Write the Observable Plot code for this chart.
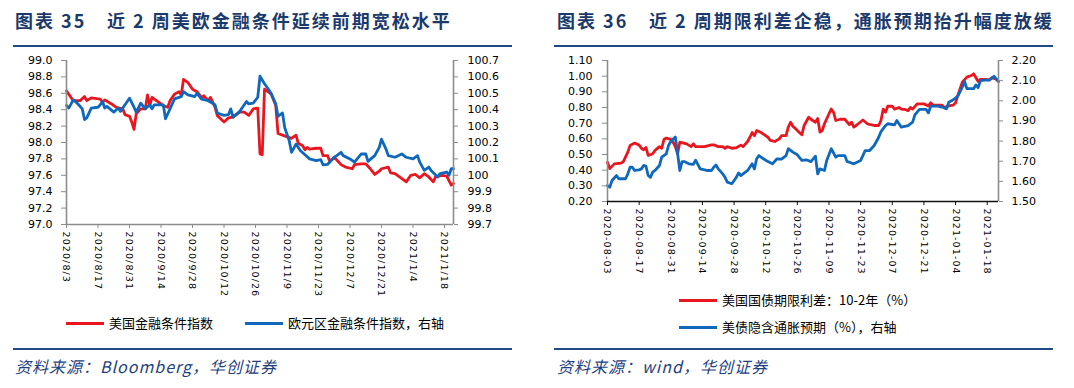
<!DOCTYPE html>
<html><head><meta charset="utf-8">
<script src="https://cdn.jsdelivr.net/npm/d3@7"></script>
<script src="https://cdn.jsdelivr.net/npm/@observablehq/plot@0.6"></script>
<style>
body{margin:0;background:#fff;}
#root{position:relative;width:1074px;height:388px;overflow:hidden;font-family:"Noto Sans CJK SC",sans-serif;background:#fff;}
.title{position:absolute;top:6px;font-size:18px;font-weight:700;color:#1b3a6b;letter-spacing:2px;white-space:nowrap;line-height:28px}
.rule{position:absolute;height:2px;background:#1f4a86}
.src{position:absolute;top:355px;font-size:16px;font-style:italic;color:#1f3f7f;letter-spacing:1px;white-space:nowrap;line-height:22px}
.leg{position:absolute;font-size:13px;color:#000;white-space:nowrap;line-height:18px}
.sw{position:absolute;height:3px;width:38px}
.chart{position:absolute;top:50px}
</style></head>
<body><div id="root"></div>
<script>
// ---------- Data: left panel (图表35) ----------
const usDates = ["2020-08-03","2020-08-06","2020-08-09","2020-08-11","2020-08-12","2020-08-14","2020-08-18","2020-08-19","2020-08-20","2020-08-23","2020-08-25","2020-08-28","2020-08-29","2020-08-31","2020-09-01","2020-09-02","2020-09-03","2020-09-05","2020-09-07","2020-09-08","2020-09-09","2020-09-10","2020-09-12","2020-09-15","2020-09-17","2020-09-18","2020-09-20","2020-09-22","2020-09-23","2020-09-24","2020-09-26","2020-09-28","2020-09-30","2020-10-02","2020-10-03","2020-10-05","2020-10-06","2020-10-08","2020-10-09","2020-10-12","2020-10-14","2020-10-16","2020-10-19","2020-10-21","2020-10-23","2020-10-25","2020-10-27","2020-10-28","2020-10-29","2020-10-30","2020-11-02","2020-11-04","2020-11-05","2020-11-07","2020-11-10","2020-11-11","2020-11-13","2020-11-14","2020-11-16","2020-11-17","2020-11-18","2020-11-19","2020-11-22","2020-11-24","2020-11-25","2020-11-27","2020-11-28","2020-11-30","2020-12-03","2020-12-05","2020-12-08","2020-12-09","2020-12-12","2020-12-14","2020-12-16","2020-12-18","2020-12-20","2020-12-21","2020-12-24","2020-12-25","2020-12-27","2020-12-29","2021-01-01","2021-01-03","2021-01-05","2021-01-07","2021-01-09","2021-01-11","2021-01-13","2021-01-14","2021-01-17","2021-01-19","2021-01-21","2021-01-22"];
const usFci = [98.63,98.51,98.51,98.56,98.51,98.545,98.53,98.49,98.52,98.47,98.43,98.41,98.34,98.32,98.25,98.16,98.35,98.41,98.41,98.58,98.45,98.55,98.51,98.45,98.43,98.51,98.59,98.62,98.58,98.77,98.73,98.65,98.62,98.55,98.57,98.51,98.55,98.43,98.33,98.25,98.30,98.31,98.37,98.37,98.33,98.41,98.42,97.86,97.85,98.65,98.59,98.45,98.11,98.09,98.06,98.05,98.09,97.99,97.96,97.91,97.94,97.92,97.93,97.93,97.84,97.84,97.77,97.82,97.73,97.70,97.68,97.73,97.74,97.74,97.68,97.61,97.65,97.68,97.70,97.63,97.62,97.58,97.52,97.60,97.61,97.57,97.62,97.58,97.52,97.58,97.60,97.59,97.48,97.50];

const euDates = ["2020-08-03","2020-08-04","2020-08-06","2020-08-08","2020-08-10","2020-08-11","2020-08-12","2020-08-14","2020-08-17","2020-08-18","2020-08-19","2020-08-20","2020-08-21","2020-08-24","2020-08-26","2020-08-27","2020-08-29","2020-08-31","2020-09-02","2020-09-03","2020-09-05","2020-09-07","2020-09-09","2020-09-10","2020-09-11","2020-09-15","2020-09-16","2020-09-18","2020-09-20","2020-09-23","2020-09-24","2020-09-26","2020-09-29","2020-09-30","2020-10-02","2020-10-05","2020-10-08","2020-10-09","2020-10-12","2020-10-14","2020-10-15","2020-10-16","2020-10-19","2020-10-20","2020-10-22","2020-10-23","2020-10-25","2020-10-27","2020-10-28","2020-10-30","2020-11-01","2020-11-02","2020-11-04","2020-11-05","2020-11-07","2020-11-08","2020-11-10","2020-11-11","2020-11-13","2020-11-15","2020-11-17","2020-11-19","2020-11-22","2020-11-24","2020-11-25","2020-11-27","2020-11-30","2020-12-03","2020-12-04","2020-12-07","2020-12-09","2020-12-12","2020-12-14","2020-12-15","2020-12-18","2020-12-20","2020-12-21","2020-12-23","2020-12-24","2020-12-27","2020-12-30","2021-01-01","2021-01-04","2021-01-06","2021-01-07","2021-01-09","2021-01-11","2021-01-12","2021-01-15","2021-01-16","2021-01-19","2021-01-20","2021-01-21","2021-01-22"];
const euFci = [100.426,100.41,100.46,100.436,100.405,100.34,100.35,100.41,100.415,100.43,100.45,100.41,100.42,100.385,100.41,100.39,100.43,100.47,100.415,100.385,100.44,100.405,100.43,100.405,100.43,100.43,100.345,100.405,100.466,100.48,100.51,100.49,100.48,100.50,100.465,100.455,100.43,100.38,100.365,100.37,100.405,100.355,100.39,100.41,100.45,100.435,100.44,100.476,100.604,100.558,100.52,100.497,100.436,100.36,100.38,100.29,100.21,100.14,100.19,100.15,100.125,100.10,100.09,100.095,100.064,100.066,100.11,100.14,100.12,100.10,100.08,100.13,100.13,100.085,100.12,100.17,100.22,100.16,100.12,100.11,100.13,100.11,100.10,100.12,100.08,100.03,100.05,100.03,99.99,100.01,100.02,100.00,100.04,100.04];

const leftTicksL = [97.0,97.2,97.4,97.6,97.8,98.0,98.2,98.4,98.6,98.8,99.0];
const leftTicksR = [99.7,99.8,99.9,100.0,100.1,100.2,100.3,100.4,100.5,100.6,100.7];
const leftXTicks = ["2020-08-03","2020-08-17","2020-08-31","2020-09-14","2020-09-28","2020-10-12","2020-10-26","2020-11-09","2020-11-23","2020-12-07","2020-12-21","2021-01-04","2021-01-18"];
const leftXLabels = ["2020/8/3","2020/8/17","2020/8/31","2020/9/14","2020/9/28","2020/10/12","2020/10/26","2020/11/9","2020/11/23","2020/12/7","2020/12/21","2021/1/4","2021/1/18"];

// ---------- Data: right panel (图表36) ----------
const spreadDates = ["2020-08-03","2020-08-04","2020-08-06","2020-08-09","2020-08-10","2020-08-12","2020-08-13","2020-08-15","2020-08-17","2020-08-18","2020-08-19","2020-08-20","2020-08-21","2020-08-23","2020-08-24","2020-08-26","2020-08-27","2020-08-28","2020-08-29","2020-08-31","2020-09-01","2020-09-02","2020-09-03","2020-09-04","2020-09-07","2020-09-09","2020-09-10","2020-09-11","2020-09-15","2020-09-18","2020-09-19","2020-09-21","2020-09-23","2020-09-24","2020-09-25","2020-09-27","2020-09-29","2020-10-01","2020-10-02","2020-10-04","2020-10-05","2020-10-06","2020-10-07","2020-10-08","2020-10-10","2020-10-13","2020-10-14","2020-10-16","2020-10-18","2020-10-19","2020-10-21","2020-10-22","2020-10-23","2020-10-24","2020-10-25","2020-10-27","2020-10-28","2020-10-29","2020-10-31","2020-11-01","2020-11-03","2020-11-04","2020-11-05","2020-11-06","2020-11-07","2020-11-09","2020-11-10","2020-11-11","2020-11-12","2020-11-14","2020-11-16","2020-11-18","2020-11-19","2020-11-20","2020-11-21","2020-11-24","2020-11-26","2020-11-29","2020-12-01","2020-12-02","2020-12-03","2020-12-04","2020-12-05","2020-12-07","2020-12-08","2020-12-10","2020-12-11","2020-12-13","2020-12-14","2020-12-15","2020-12-16","2020-12-18","2020-12-21","2020-12-23","2020-12-24","2020-12-25","2020-12-27","2020-12-29","2020-12-30","2021-01-01","2021-01-03","2021-01-04","2021-01-05","2021-01-07","2021-01-09","2021-01-11","2021-01-12","2021-01-14","2021-01-15","2021-01-17","2021-01-19","2021-01-20","2021-01-22","2021-01-23"];
const spread = [0.45,0.41,0.44,0.445,0.455,0.515,0.558,0.573,0.56,0.54,0.53,0.545,0.494,0.505,0.526,0.55,0.54,0.596,0.605,0.596,0.579,0.55,0.505,0.579,0.568,0.55,0.568,0.55,0.55,0.562,0.562,0.55,0.55,0.54,0.55,0.54,0.543,0.56,0.55,0.583,0.61,0.64,0.62,0.653,0.64,0.61,0.59,0.583,0.60,0.62,0.62,0.675,0.706,0.68,0.668,0.639,0.626,0.685,0.738,0.725,0.706,0.73,0.643,0.653,0.696,0.76,0.79,0.77,0.717,0.725,0.725,0.69,0.706,0.675,0.685,0.72,0.696,0.685,0.685,0.717,0.79,0.77,0.808,0.808,0.79,0.80,0.79,0.786,0.78,0.80,0.79,0.823,0.823,0.81,0.83,0.815,0.815,0.815,0.80,0.81,0.815,0.83,0.877,0.962,0.994,1.004,1.015,0.966,0.98,0.98,0.976,0.99,0.98,0.966];

const bkeDates = ["2020-08-03","2020-08-04","2020-08-05","2020-08-07","2020-08-08","2020-08-11","2020-08-12","2020-08-13","2020-08-14","2020-08-15","2020-08-17","2020-08-18","2020-08-19","2020-08-20","2020-08-21","2020-08-22","2020-08-23","2020-08-24","2020-08-26","2020-08-27","2020-08-29","2020-08-30","2020-08-31","2020-09-02","2020-09-03","2020-09-04","2020-09-05","2020-09-06","2020-09-08","2020-09-10","2020-09-11","2020-09-13","2020-09-16","2020-09-18","2020-09-19","2020-09-20","2020-09-21","2020-09-23","2020-09-24","2020-09-25","2020-09-27","2020-09-29","2020-09-30","2020-10-01","2020-10-04","2020-10-06","2020-10-07","2020-10-08","2020-10-09","2020-10-11","2020-10-13","2020-10-15","2020-10-17","2020-10-19","2020-10-21","2020-10-22","2020-10-24","2020-10-26","2020-10-28","2020-10-30","2020-11-01","2020-11-03","2020-11-04","2020-11-05","2020-11-07","2020-11-08","2020-11-10","2020-11-12","2020-11-13","2020-11-16","2020-11-17","2020-11-18","2020-11-20","2020-11-23","2020-11-24","2020-11-25","2020-11-27","2020-11-29","2020-12-01","2020-12-02","2020-12-04","2020-12-05","2020-12-08","2020-12-09","2020-12-11","2020-12-13","2020-12-14","2020-12-16","2020-12-17","2020-12-19","2020-12-22","2020-12-23","2020-12-24","2020-12-27","2020-12-29","2020-12-31","2021-01-01","2021-01-03","2021-01-05","2021-01-07","2021-01-08","2021-01-09","2021-01-10","2021-01-12","2021-01-13","2021-01-14","2021-01-15","2021-01-17","2021-01-19","2021-01-21","2021-01-22","2021-01-23"];
const bke = [1.579,1.571,1.604,1.629,1.613,1.613,1.637,1.67,1.67,1.654,1.657,1.662,1.679,1.676,1.629,1.62,1.646,1.654,1.679,1.72,1.737,1.778,1.798,1.82,1.74,1.654,1.698,1.698,1.687,1.684,1.705,1.662,1.654,1.654,1.67,1.681,1.662,1.637,1.62,1.596,1.588,1.62,1.642,1.629,1.654,1.687,1.662,1.712,1.728,1.712,1.698,1.687,1.712,1.71,1.728,1.762,1.745,1.732,1.704,1.707,1.698,1.725,1.637,1.662,1.654,1.704,1.762,1.72,1.728,1.728,1.698,1.695,1.687,1.704,1.728,1.753,1.753,1.778,1.819,1.847,1.877,1.886,1.88,1.902,1.869,1.874,1.877,1.894,1.93,1.957,1.957,1.94,1.973,1.973,1.969,1.96,1.993,2.005,2.023,2.068,2.096,2.06,2.06,2.06,2.079,2.065,2.10,2.103,2.103,2.122,2.109,2.096];

const rightTicksL = [0.2,0.3,0.4,0.5,0.6,0.7,0.8,0.9,1.0,1.1];
const rightTicksR = [1.5,1.6,1.7,1.8,1.9,2.0,2.1,2.2];
const rightXTicks = leftXTicks;
const rightXLabels = ["2020-08-03","2020-08-17","2020-08-31","2020-09-14","2020-09-28","2020-10-12","2020-10-26","2020-11-09","2020-11-23","2020-12-07","2020-12-21","2021-01-04","2021-01-18"];

// ---------- Text ----------
const texts = {
  t1a: "图表 35", t1b: "近 2 周美欧金融条件延续前期宽松水平",
  t2a: "图表 36", t2b: "近 2 周期限利差企稳，通胀预期抬升幅度放缓",
  s1: "资料来源：Bloomberg，华创证券", s2: "资料来源：wind，华创证券",
  l1a: "美国金融条件指数", l1b: "欧元区金融条件指数，右轴",
  l2a: "美国国债期限利差：10-2年（%）", l2b: "美债隐含通胀预期（%），右轴"
};
const RED = "#e8161f", BLUE = "#0f68bb";

const parse = d3.utcParse("%Y-%m-%d");
const root = document.getElementById("root");
function add(cls, css, html){ const e=document.createElement("div"); e.className=cls; Object.assign(e.style, css); if(html!=null) e.textContent=html; root.appendChild(e); return e; }

add("title",{left:"15px"},texts.t1a); add("title",{left:"107px"},texts.t1b);
add("title",{left:"557px"},texts.t2a); add("title",{left:"649px"},texts.t2b);
add("rule",{left:"13px",top:"45px",width:"499px"}); add("rule",{left:"554px",top:"45px",width:"499px"});
add("rule",{left:"13px",top:"348px",width:"499px"}); add("rule",{left:"554px",top:"348px",width:"499px"});
add("src",{left:"15px"},texts.s1); add("src",{left:"557px"},texts.s2);
add("sw",{left:"66px",top:"321.5px",background:RED}); add("leg",{left:"109px",top:"314px"},texts.l1a);
add("sw",{left:"245px",top:"321.5px",background:BLUE}); add("leg",{left:"288px",top:"314px"},texts.l1b);
add("sw",{left:"679px",top:"298.5px",background:RED}); add("leg",{left:"722px",top:"291px"},texts.l2a);
add("sw",{left:"679px",top:"325.5px",background:BLUE}); add("leg",{left:"722px",top:"318px"},texts.l2b);

function makePanel(cfg){
  const xd = [parse(cfg.x0), parse(cfg.x1)];
  const toL = v => cfg.yL[0] + (v - cfg.yR[0]) * (cfg.yL[1]-cfg.yL[0])/(cfg.yR[1]-cfg.yR[0]);
  const fromL = v => cfg.yR[0] + (v - cfg.yL[0]) * (cfg.yR[1]-cfg.yR[0])/(cfg.yL[1]-cfg.yL[0]);
  const redData = cfg.rDates.map((d,i)=>({date:parse(d), v:cfg.rVals[i]}));
  const blueData = cfg.bDates.map((d,i)=>({date:parse(d), v:toL(cfg.bVals[i])}));
  const labelMap = new Map(cfg.xTicks.map((d,i)=>[+parse(d), cfg.xLabels[i]]));
  const chart = Plot.plot({
    width: 537, height: 250,
    marginLeft: cfg.ml, marginRight: cfg.mr, marginTop: 10, marginBottom: cfg.mb,
    style: {background:"transparent", fontFamily:"DejaVu Sans", fontSize:"11px", color:"#000", overflow:"visible"},
    x: {type:"utc", domain: xd},
    y: {domain: cfg.yL},
    marks: [
      Plot.line(redData, {x:"date", y:"v", stroke:RED, strokeWidth:2.8, strokeLinejoin:"round"}),
      Plot.line(blueData, {x:"date", y:"v", stroke:BLUE, strokeWidth:2.8, strokeLinejoin:"round"}),
      Plot.ruleX([xd[0]], {stroke:cfg.axisGray, strokeWidth:1.6}),
      Plot.ruleX([xd[1]], {stroke:cfg.axisGray, strokeWidth:1.6}),
      Plot.ruleY([cfg.yL[0]], {stroke:cfg.bottomColor, strokeWidth:1.4}),
      Plot.axisY(cfg.ticksL, {anchor:"left", tickSize:5, tickPadding:cfg.padL, stroke:cfg.axisGray, fill:"#000", tickFormat:d=>d.toFixed(cfg.decL), label:null}),
      Plot.axisY(cfg.ticksR.map(toL), {anchor:"right", tickSize:4, tickPadding:cfg.padR, stroke:cfg.axisGray, fill:"#000", tickFormat:cfg.fmtR(fromL), label:null}),
      Plot.axisX(cfg.xTicks.map(parse), {anchor:"bottom", tickSize:4, tickPadding:3, tickRotate:90, stroke:cfg.bottomColor, fill:"#000", fontSize:9.5, tickFormat:d=>labelMap.get(+d), label:null})
    ]
  });
  d3.select(chart).selectAll('[aria-label="x-axis tick label"] text').attr("letter-spacing","1.1px");
  chart.classList.add("chart");
  chart.style.left = cfg.left + "px";
  root.appendChild(chart);
}

makePanel({
  left:0, ml:66, mr:84, mb:76, x0:"2020-08-03", x1:"2021-01-22",
  yL:[97,99], yR:[99.7,100.7], ticksL:leftTicksL, ticksR:leftTicksR, decL:1, padL:9, padR:10,
  fmtR: fromL => d => String(Math.round(fromL(d)*10)/10),
  rDates:usDates, rVals:usFci, bDates:euDates, bVals:euFci,
  xTicks:leftXTicks, xLabels:leftXLabels, axisGray:"#8c8c8c", bottomColor:"#8c8c8c"
});
makePanel({
  left:537, ml:70, mr:76, mb:99, x0:"2020-08-03", x1:"2021-01-23",
  yL:[0.2,1.1], yR:[1.5,2.2], ticksL:rightTicksL, ticksR:rightTicksR, decL:2, padL:10, padR:9,
  fmtR: fromL => d => fromL(d).toFixed(2),
  rDates:spreadDates, rVals:spread, bDates:bkeDates, bVals:bke,
  xTicks:rightXTicks, xLabels:rightXLabels, axisGray:"#8c8c8c", bottomColor:"#111"
});
</script>
</body></html>
